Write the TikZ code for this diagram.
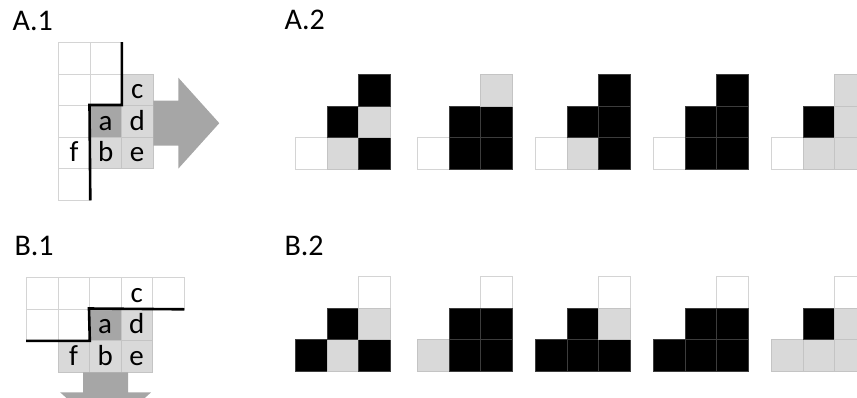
\documentclass[tikz,border=0pt]{standalone}
\usepackage{fontspec}
\setmainfont{Carlito}

\definecolor{fillW}{HTML}{FFFFFF}
\definecolor{fillL}{HTML}{D9D9D9}
\definecolor{fillM}{HTML}{A6A6A6}
\definecolor{fillK}{HTML}{000000}
\definecolor{lineW}{HTML}{D4D4D4}
\definecolor{lineL}{HTML}{C4C4C4}
\definecolor{lineM}{HTML}{A0A0A0}
\definecolor{lineK}{HTML}{3C3C3C}
\definecolor{arrowgray}{HTML}{A6A6A6}

\begin{document}
\begin{tikzpicture}[x=1pt,y=-1pt,
  cell/.style={fill=fill#1,draw=line#1,line width=0.8pt,minimum size=31.5pt,inner sep=0pt,
    anchor=north west,text height=20pt,text depth=2pt,font=\fontsize{29}{33}\selectfont},
  panel/.style={anchor=base west,font=\fontsize{30}{34}\selectfont},
  cut/.style={line width=2.6pt},
  bigarrow/.style={fill=arrowgray}
]
  \path[use as bounding box,clip] (0,0) rectangle (857,397);

  % A.1
  \node[panel] (tA1) at (9,30) {A.1};
  \node[cell=W] (A1r0c0) at (58,42) {};
  \node[cell=W] (A1r0c1) at (89.5,42) {};
  \node[cell=W] (A1r1c0) at (58,73.5) {};
  \node[cell=W] (A1r1c1) at (89.5,73.5) {};
  \node[cell=L] (A1c) at (121,73.5) {c};
  \node[cell=W] (A1r2c0) at (58,105) {};
  \node[cell=M] (A1a) at (89.5,105) {a};
  \node[cell=L] (A1d) at (121,105) {d};
  \node[cell=W] (A1f) at (58,136.5) {f};
  \node[cell=L] (A1b) at (89.5,136.5) {b};
  \node[cell=L] (A1e) at (121,136.5) {e};
  \node[cell=W] (A1r4c0) at (58,168) {};
  \draw[cut] (A1r0c1.north east) -- (A1a.north east) -- (A1a.north west) -- (A1r4c0.south east);
  \fill[bigarrow] (A1d.east) ++(0,-20.5) -- ++(25,0) -- ++(0,-23) -- ++(41,45.5)
    -- ++(-41,45.5) -- ++(0,-23) -- ++(-25,0) -- cycle;

  % A.2
  \node[panel] (tA2) at (281,29) {A.2};
  \foreach \px/\c/\a/\d/\f/\b/\e [count=\k] in
    {295/K/K/L/W/L/K, 417/L/K/K/W/K/K, 535/K/K/K/W/L/K, 653/K/K/K/W/K/K, 771/L/K/L/W/L/L}{
    \node[cell=\f] (A2-\k-f) at (\px,137) {};
    \node[cell=\b] (A2-\k-b) at (\px+31.5,137) {};
    \node[cell=\e] (A2-\k-e) at (\px+63,137) {};
    \node[cell=\a] (A2-\k-a) at (\px+31.5,105.5) {};
    \node[cell=\d] (A2-\k-d) at (\px+63,105.5) {};
    \node[cell=\c] (A2-\k-c) at (\px+63,74) {};
  }

  % B.1
  \node[panel] (tB1) at (11,255) {B.1};
  \node[cell=W] (B1r0c0) at (26,277) {};
  \node[cell=W] (B1r0c1) at (57.5,277) {};
  \node[cell=W] (B1r0c2) at (89,277) {};
  \node[cell=W] (B1c) at (120.5,277) {c};
  \node[cell=W] (B1r0c4) at (152,277) {};
  \node[cell=W] (B1r1c0) at (26,308.5) {};
  \node[cell=W] (B1r1c1) at (57.5,308.5) {};
  \node[cell=M] (B1a) at (89,308.5) {a};
  \node[cell=L] (B1d) at (120.5,308.5) {d};
  \node[cell=L] (B1f) at (57.5,340) {f};
  \node[cell=L] (B1b) at (89,340) {b};
  \node[cell=L] (B1e) at (120.5,340) {e};
  \draw[cut] (B1r1c0.south west) -- (B1r1c1.south east) -- (B1a.north west) -- (B1r0c4.south east);
  \fill[bigarrow] (B1b.south) ++(-22,0) -- ++(0,20) -- ++(-23,0) -- ++(45.5,41)
    -- ++(45.5,-41) -- ++(-23,0) -- ++(0,-20) -- cycle;

  % B.2
  \node[panel] (tB2) at (281,255) {B.2};
  \foreach \px/\c/\a/\d/\f/\b/\e [count=\k] in
    {295/W/K/L/K/L/K, 417/W/K/K/L/K/K, 535/W/K/L/K/K/K, 653/W/K/K/K/K/K, 771/W/K/L/L/L/L}{
    \node[cell=\c] (B2-\k-c) at (\px+63,276) {};
    \node[cell=\f] (B2-\k-f) at (\px,339) {};
    \node[cell=\b] (B2-\k-b) at (\px+31.5,339) {};
    \node[cell=\e] (B2-\k-e) at (\px+63,339) {};
    \node[cell=\a] (B2-\k-a) at (\px+31.5,307.5) {};
    \node[cell=\d] (B2-\k-d) at (\px+63,307.5) {};
  }
\end{tikzpicture}
\end{document}
